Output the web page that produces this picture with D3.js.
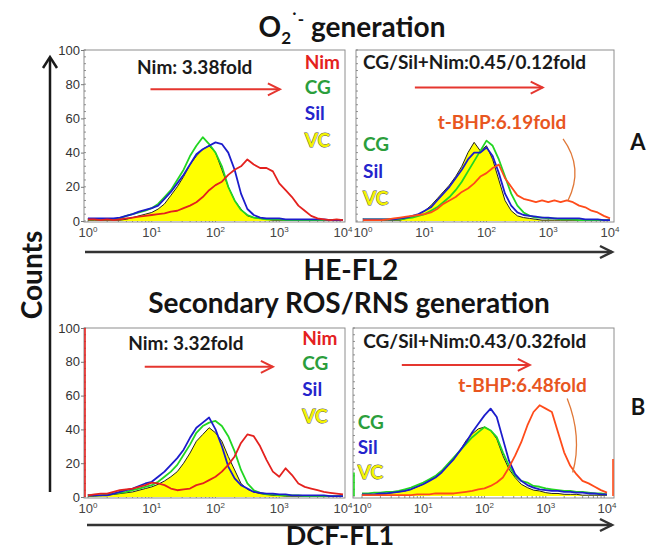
<!DOCTYPE html>
<html>
<head>
<meta charset="utf-8">
<script src="https://cdn.jsdelivr.net/npm/d3@7"></script>
<style>
body{margin:0;background:#fff}
svg{display:block}
</style>
</head>
<body>
<script>
var width = 653, height = 551;

// fluorescence channels, log10 of intensity
var channelLog = [0,0.1,0.2,0.3,0.4,0.5,0.6,0.7,0.8,0.9,1,1.1,1.2,1.3,1.4,1.5,1.6,1.7,1.8,1.9,2,2.1,2.2,2.3,2.4,2.5,2.6,2.7,2.8,2.9,3,3.1,3.2,3.3,3.4,3.5,3.6,3.7,3.8,3.9,4];
var xDecades = [0,1,2,3,4];
var yTicks = [0,20,40,60,80,100];

// HE-FL2 (O2 generation), left panel
var heNim = [1,1,0.5,1,0.5,1,1.5,2,2.5,3,3.5,4,4.5,5.5,6,7.5,9,11,14,18,21,23,27,30,32,36,33,31,31,29,22,18,14,9,6,3,1.5,1,0.5,1,0.5];
var heCg  = [1,1,1,1,1,1.5,3,4,5,6,7.5,10,14,18,24,30,38,44,49,45,40,32,20,12,6.5,3.5,2,1.5,1,1,1,0.5,0.5,0.5,0.5,0.5,0.5,0.5,0.5,0.5,0.5];
var heSil = [1.5,1.5,1.5,1.5,1.5,2,3,4,5.5,6.5,7.5,9,13,17,22,27,33,39,42,44,46,45,40,30,16,7,3.5,2,1.5,1.5,1.5,1,1,1,1,1,1,1,0.5,0.5,0.5];
var heVc  = [0.5,0.5,0.5,0.5,0.5,0.5,1,2,3,4,5,7,10,15,20,26,33,38,42,44,40,30,20,12,7,3,2,1.5,1,0.5,0.5,0.5,0.5,0.5,0.5,0.5,0.5,0.5,0.5,0.5,0.5];
// HE-FL2, right panel
var heCgNim  = [1,1,1,1,1,1,1,1.5,2,3,4,6,8,11,14,18,23,29,35,41,47,44,36,26,16,9,5,3,2,2,1.5,1.5,1,1,1,0.5,0.5,0.5,0.5,0.5,0.5];
var heSilNim = [1,1,1,1,1,1,1.5,2,3,4,6,8,12,16,20,25,30,36,40,40,43,38,28,16,9,5,3.5,3,2.5,2,2,1.5,1.5,1.5,1.5,1.5,1,1,1,0.5,0.5];
var heVc2    = [0.5,0.5,0.5,0.5,0.5,0.5,0.5,1.5,2.5,4,6,9,13,17,21,26,32,40,46,41,44,36,24,12,6,3,2,1.5,1,0.5,0.5,0.5,0.5,0.5,0.5,0.5,0.5,0.5,0.5,0.5,0.5];
var heTbhp   = [0.5,0.5,0.5,0.5,1,1.5,2,2.5,3,3.5,4,5,7,10,12,14,17,19,22,26,28,31,33,25,20,15,13,12,11,12,11,12,11,12,11,9,8,6,5,3,1.5];

// DCF-FL1 (secondary ROS/RNS), left panel
var dcfNim = [1,1.5,2,2,3,4,4.5,5,6,7,8.5,8,7,5,4,4.5,5,7,8,10,12,15,19,24,32,37,36,30,22,15,12,17,13,8,6,5,4,3,2.5,2,1.5];
var dcfCg  = [1,1,1,1.5,2,2.5,3,4,5,6,7,9,12,15,19,25,31,38,42,44,45,42,36,27,16,8,4,2.5,1.5,1.5,1,1,1,1,0.5,0.5,0.5,0.5,0.5,0.5,0.5];
var dcfSil = [1,1,1,1,2,3,4,5,6.5,8,9,12,15,19,23,28,35,41,44,47,40,30,18,11,7,5,3,2.5,2,2,1.5,1.5,1,1,1,1,1,1,0.5,0.5,0.5];
var dcfVc  = [0.5,0.5,1,1,1.5,2,2.5,3,4,5,6,7.5,9.5,12,15,20,26,33,37,41,38,33,24,16,8,4.5,3,2,1.5,1,1,0.5,0.5,0.5,0.5,0.5,0.5,0.5,0.5,0.5,0.5];
// DCF-FL1, right panel
var dcfCgNim  = [1.5,1.5,2,2,2.5,2.5,3,4,5,6.5,8,10,12,15,19,23,27,31,35,38,41,39,35,26,18,12,9,8,6,5.5,4.5,4,3.5,3,3,2.5,2.5,2,1.5,1.5,1];
var dcfSilNim = [1,1,1,1.5,1.5,2,2.5,3,4,5.5,7,9,11,14,18,22,27,32,38,43,48,52,47,34,21,13,9,6.5,5,4,3.5,3,3,2.5,2.5,2,2,1.5,1.5,1,1];
var dcfVc2    = [0.5,0.5,1,1,1.5,2,2.5,3,4,5.5,7,9.5,12,15,19,23,27,33,37,40,41,39,34,24,16,11,7,5,3.5,3,2,1.5,1.5,1,1,1,0.5,0.5,0.5,0.5,0.5];
var dcfTbhp   = [0.5,0.5,0.5,0.5,0.5,0.5,0.5,0.5,0.5,1,1,1,1.5,1.5,1.5,1.5,2,2.5,3,4,4.5,6,8,11,17,24,32,42,50,54,52,50,38,26,18,13,9,7.5,5.5,3.5,2];

// off-scale events piled up in the first / last channel
var dcfNimLowEdge = 100;
var dcfCgNimLowEdge = 14;
var dcfTbhpHighEdge = 22;

var red = "#e4211e", green = "#22d622", blue = "#1c1ccc", yellow = "#ffff00", orange = "#ff4b1a";
var legendColor = {Nim: "#e4211e", CG: "#2b9e3c", Sil: "#2424cc", VC: "#f4f400"};

var panels = [
  {box: [84, 50, 345, 222], xr: [88, 343], yr: [221, 50], yLabels: true,
   vc: heVc, lines: [[heCg, green], [heSil, blue], [heNim, red]], edges: [],
   fold: ["Nim: 3.38fold", 0.77, 86], arrow: [0.98, 3.01, 77],
   legend: [3.4, [["Nim", 89], ["CG", 74], ["Sil", 59], ["VC", 43.5]]]},
  {box: [356, 50, 614, 222], xr: [363, 610], yr: [221, 50], yLabels: false,
   vc: heVc2, lines: [[heCgNim, green], [heSilNim, blue], [heTbhp, orange]], edges: [],
   fold: ["CG/Sil+Nim:0.45/0.12fold", 0, 89], arrow: [0.84, 2.91, 78],
   tbhp: ["t-BHP:6.19fold", 1.21, 54], hook: [[3.24, 48], [3.58, 31], [3.32, 12]],
   legend: [0, [["CG", 41], ["Sil", 25], ["VC", 9.5]]]},
  {box: [84, 328, 345, 498], xr: [88, 343], yr: [497, 328], yLabels: true,
   vc: dcfVc, lines: [[dcfCg, green], [dcfSil, blue], [dcfNim, red]],
   edges: [[dcfNimLowEdge, "low", red]],
   fold: ["Nim: 3.32fold", 0.63, 87], arrow: [0.89, 2.9, 77],
   legend: [3.36, [["Nim", 90], ["CG", 75], ["Sil", 60], ["VC", 44]]]},
  {box: [353, 328, 614, 498], xr: [362, 607], yr: [496, 328], yLabels: false,
   vc: dcfVc2, lines: [[dcfCgNim, green], [dcfSilNim, blue], [dcfTbhp, orange]],
   edges: [[dcfCgNimLowEdge, "low", green], [dcfTbhpHighEdge, "high", orange]],
   fold: ["CG/Sil+Nim:0.43/0.32fold", 0.02, 88], arrow: [0.65, 2.74, 78],
   tbhp: ["t-BHP:6.48fold", 1.57, 62], hook: [[3.35, 58], [3.6, 35], [3.44, 14]],
   legend: [-0.07, [["CG", 40], ["Sil", 25], ["VC", 10]]]}
];

var svg = d3.select("body").append("svg")
  .attr("width", width)
  .attr("height", height)
  .style("font-family", "Lato, 'Open Sans', sans-serif");

function arrowHead(g, x2, y2, color, w) {
  g.append("path")
    .attr("d", "M" + (x2 - 12) + "," + (y2 - 6) + "L" + x2 + "," + y2 + "L" + (x2 - 12) + "," + (y2 + 6))
    .attr("fill", "none").attr("stroke", color).attr("stroke-width", w);
}

function drawPanel(p) {
  var g = svg.append("g");
  var x = d3.scaleLog().domain([1, 10000]).range(p.xr);
  var y = d3.scaleLinear().domain([0, 100]).range(p.yr);
  var xl = function(l) { return x(Math.pow(10, l)); };

  g.append("rect")
    .attr("x", p.box[0]).attr("y", p.box[1])
    .attr("width", p.box[2] - p.box[0]).attr("height", p.box[3] - p.box[1])
    .attr("fill", "#fff").attr("stroke", "#8e8e8e").attr("stroke-width", 1);

  // dotted minor ticks on left and bottom edges
  g.append("g").selectAll("line")
    .data(d3.range(0, 101, 4))
    .join("line")
    .attr("x1", p.box[0]).attr("x2", p.box[0] + 2)
    .attr("y1", function(d) { return y(d); }).attr("y2", function(d) { return y(d); })
    .attr("stroke", "#777").attr("stroke-width", 0.8);
  var minor = [];
  [0, 1, 2, 3].forEach(function(k) { d3.range(1, 10).forEach(function(m) { minor.push(m * Math.pow(10, k)); }); });
  g.append("g").selectAll("line")
    .data(minor)
    .join("line")
    .attr("x1", function(d) { return x(d); }).attr("x2", function(d) { return x(d); })
    .attr("y1", p.box[3]).attr("y2", function(d) { return p.box[3] - (Math.log10(d) % 1 === 0 ? 4 : 2); })
    .attr("stroke", "#777").attr("stroke-width", 0.8);

  if (p.yLabels) {
    var ya = g.append("g")
      .attr("transform", "translate(" + p.box[0] + ",0)")
      .call(d3.axisLeft(y).tickValues(yTicks).tickSize(3).tickPadding(1));
    ya.select(".domain").remove();
    ya.selectAll("line").attr("stroke", "#777");
    ya.selectAll("text").attr("font-family", "'Liberation Sans', Arial, sans-serif")
      .attr("font-size", 13).attr("fill", "#333");
  }

  var xt = g.append("g").selectAll("text")
    .data(xDecades)
    .join("text")
    .attr("x", function(d) { return xl(d); })
    .attr("y", p.box[3] + 15)
    .attr("text-anchor", "middle")
    .attr("font-family", "'Liberation Sans', Arial, sans-serif")
    .attr("font-size", 13).attr("fill", "#444");
  xt.append("tspan").text("10");
  xt.append("tspan").attr("dy", -5).attr("font-size", 8).text(function(d) { return d; });

  var area = d3.area()
    .x(function(d, i) { return xl(channelLog[i]); })
    .y0(y(0))
    .y1(function(d) { return y(d); });
  var line = d3.line()
    .x(function(d, i) { return xl(channelLog[i]); })
    .y(function(d) { return y(d); });

  g.append("path").datum(p.vc).attr("d", area).attr("fill", yellow);
  g.append("path").datum(p.vc).attr("d", line)
    .attr("fill", "none").attr("stroke", "#222").attr("stroke-width", 1);
  p.lines.forEach(function(s) {
    g.append("path").datum(s[0]).attr("d", line)
      .attr("fill", "none").attr("stroke", s[1]).attr("stroke-width", 1.8)
      .attr("stroke-linejoin", "round");
  });

  // pile-up in the edge channels, drawn on the panel border
  g.append("g").selectAll("line")
    .data(p.edges)
    .join("line")
    .attr("x1", function(d) { return d[1] === "low" ? p.box[0] + 1 : p.box[2] - 1; })
    .attr("x2", function(d) { return d[1] === "low" ? p.box[0] + 1 : p.box[2] - 1; })
    .attr("y1", y(0))
    .attr("y2", function(d) { return y(d[0]); })
    .attr("stroke", function(d) { return d[2]; })
    .attr("stroke-width", 1.6);

  // fold-change note and arrow
  g.append("text")
    .attr("x", xl(p.fold[1])).attr("y", y(p.fold[2]))
    .attr("font-size", 19).attr("font-weight", "bold").attr("fill", "#1a1a1a")
    .text(p.fold[0]);
  g.append("line")
    .attr("x1", xl(p.arrow[0])).attr("x2", xl(p.arrow[1]))
    .attr("y1", y(p.arrow[2])).attr("y2", y(p.arrow[2]))
    .attr("stroke", "#e5362f").attr("stroke-width", 2);
  arrowHead(g, xl(p.arrow[1]), y(p.arrow[2]), "#e5362f", 2);

  if (p.tbhp) {
    g.append("text")
      .attr("x", xl(p.tbhp[1])).attr("y", y(p.tbhp[2]))
      .attr("font-size", 19).attr("font-weight", "bold").attr("fill", "#e8561f")
      .text(p.tbhp[0]);
    var h = p.hook;
    g.append("path")
      .attr("d", "M" + xl(h[0][0]) + "," + y(h[0][1]) + "Q" + xl(h[1][0]) + "," + y(h[1][1]) + " " + xl(h[2][0]) + "," + y(h[2][1]))
      .attr("fill", "none").attr("stroke", "#e07838").attr("stroke-width", 1.3);
  }

  g.append("g").selectAll("text")
    .data(p.legend[1])
    .join("text")
    .attr("x", xl(p.legend[0]))
    .attr("y", function(d) { return y(d[1]); })
    .attr("font-size", 19).attr("font-weight", "bold")
    .attr("fill", function(d) { return legendColor[d[0]]; })
    .attr("stroke", function(d) { return d[0] === "VC" ? "#555" : "none"; })
    .attr("stroke-width", 0.9)
    .style("paint-order", "stroke")
    .text(function(d) { return d[0]; });
}

panels.forEach(drawPanel);

// shared axes arrows
var axes = svg.append("g").attr("fill", "none").attr("stroke", "#1a1a1a").attr("stroke-width", 2.5);
axes.append("line").attr("x1", 50).attr("x2", 50).attr("y1", 58).attr("y2", 492);
axes.append("path").attr("d", "M43,68L50,57L57,68");
axes.append("line").attr("x1", 85).attr("x2", 612).attr("y1", 252).attr("y2", 252).attr("stroke", "#333");
arrowHead(svg, 612, 252, "#333", 2.5);
axes.append("line").attr("x1", 87).attr("x2", 612).attr("y1", 525).attr("y2", 525).attr("stroke", "#333");
arrowHead(svg, 612, 525, "#333", 2.5);

// titles and labels
var big = {"font-size": 28, "font-weight": "bold", "fill": "#141414", "text-anchor": "middle"};
function label(txt, x, y, attrs) {
  var t = svg.append("text").attr("x", x).attr("y", y).text(txt);
  Object.keys(attrs).forEach(function(k) { t.attr(k, attrs[k]); });
  return t;
}
var o2 = svg.append("text").attr("x", 352).attr("y", 37);
Object.keys(big).forEach(function(k) { o2.attr(k, big[k]); });
o2.append("tspan").text("O");
o2.append("tspan").attr("dy", 7).attr("font-size", 17).text("2");
o2.append("tspan").attr("dy", -19).attr("font-size", 17).text("\u02D9-");
o2.append("tspan").attr("dy", 12).text(" generation");

label("HE-FL2", 351, 280, big);
label("Secondary ROS/RNS generation", 349, 313, big);
label("DCF-FL1", 340, 545, big).attr("font-size", 27);
label("Counts", 0, 0, big).attr("transform", "translate(42,275) rotate(-90)");
label("A", 638, 150, {"font-size": 22, "font-weight": "bold", "fill": "#141414", "text-anchor": "middle"});
label("B", 638, 415, {"font-size": 22, "font-weight": "bold", "fill": "#141414", "text-anchor": "middle"});
</script>
</body>
</html>
